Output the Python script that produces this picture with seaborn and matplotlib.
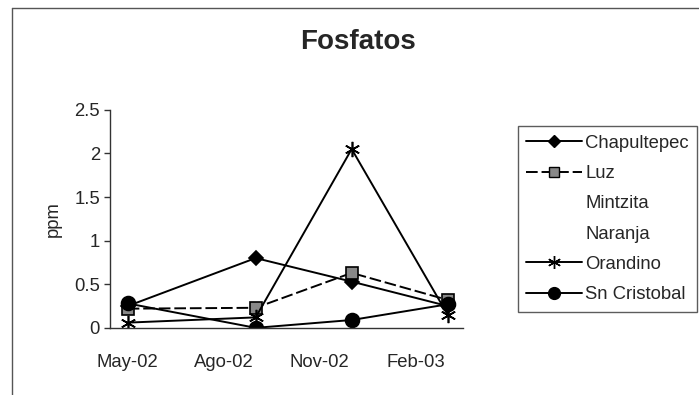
import numpy as np
import matplotlib
matplotlib.use("Agg")
import matplotlib.pyplot as plt
from matplotlib.lines import Line2D
import pandas as pd
import seaborn as sns

# sampling dates, months counted from May 2002
months = [0, 4, 7, 10]
tick_months = [0, 3, 6, 9]
tick_labels = ["May-02", "Ago-02", "Nov-02", "Feb-03"]

chapultepec = [0.25, 0.80, 0.53, 0.25]
luz = [0.22, 0.23, 0.63, 0.32]
mintzita = [np.nan, np.nan, np.nan, np.nan]
naranja = [np.nan, np.nan, np.nan, np.nan]
orandino = [0.06, 0.12, 2.05, 0.15]
sn_cristobal = [0.28, 0.00, 0.09, 0.27]

series = {
    "Chapultepec": chapultepec,
    "Luz": luz,
    "Mintzita": mintzita,
    "Naranja": naranja,
    "Orandino": orandino,
    "Sn Cristobal": sn_cristobal,
}

sns.set_theme(style="white")
plt.rcParams["font.family"] = ["Liberation Sans", "DejaVu Sans"]

styles = {
    "Chapultepec": dict(marker="D", markersize=7, markerfacecolor="black", dashes=""),
    "Luz": dict(marker="s", markersize=8, markerfacecolor="#888888", dashes=(6, 2)),
    "Mintzita": dict(marker="", markersize=0, markerfacecolor="none", dashes=""),
    "Naranja": dict(marker="", markersize=0, markerfacecolor="none", dashes=""),
    "Orandino": dict(marker=(6, 2, 0), markersize=11, markerfacecolor="black", dashes=""),
    "Sn Cristobal": dict(marker="o", markersize=10, markerfacecolor="black", dashes=""),
}

fig = plt.figure(figsize=(6.99, 3.95), dpi=100)
ax = fig.add_axes([0.157, 0.170, 0.505, 0.552])

handles = []
for name, vals in series.items():
    st = styles[name]
    df = pd.DataFrame({"month": months, "ppm": vals}).dropna()
    if len(df):
        sns.lineplot(data=df, x="month", y="ppm", ax=ax, color="black", linewidth=1.4,
                     marker=st["marker"], markersize=st["markersize"],
                     markerfacecolor=st["markerfacecolor"], markeredgecolor="black",
                     markeredgewidth=1.2, dashes=False)
        if st["dashes"]:
            ax.lines[-1].set_dashes(st["dashes"])
    h = Line2D([], [], color="black" if len(df) else "none", linewidth=1.4,
               marker=st["marker"] or None, markersize=st["markersize"] * 0.85,
               markerfacecolor=st["markerfacecolor"], markeredgecolor="black",
               markeredgewidth=1.0)
    if st["dashes"]:
        h.set_dashes(st["dashes"])
    handles.append(h)

fs = 13.3
ax.set_xlim(-0.56, 10.47)
ax.set_ylim(0, 2.5)
ax.set_yticks([0, 0.5, 1, 1.5, 2, 2.5])
ax.set_yticklabels(["0", "0.5", "1", "1.5", "2", "2.5"])
ax.set_xticks(tick_months)
ax.set_xticklabels(tick_labels)
ax.set_xticks([2.56, 5.5, 8.5], minor=True)
ax.tick_params(axis="x", which="major", length=0, pad=19, labelsize=fs)
ax.tick_params(axis="x", which="minor", length=4, width=1, color="#333333", direction="out")
ax.tick_params(axis="y", length=4, width=1, color="#333333", direction="out", left=True,
               labelsize=fs, pad=3)
ax.set_xlabel("")
ax.set_ylabel("ppm", fontsize=fs, labelpad=9)
for s in ["top", "right"]:
    ax.spines[s].set_visible(False)
for s in ["left", "bottom"]:
    ax.spines[s].set_color("#333333")
    ax.spines[s].set_linewidth(1)

fig.text(0.512, 1 - 42 / 395, "Fosfatos", ha="center", va="center",
         fontsize=20, fontweight="bold")

leg = fig.legend(handles, list(series.keys()), loc="center left",
                 bbox_to_anchor=(518 / 699, 1 - 219 / 395), fontsize=fs,
                 frameon=True, fancybox=False, edgecolor="#333333",
                 handlelength=3.0, handletextpad=0.2, labelspacing=0.72,
                 borderpad=0.45, borderaxespad=0)
leg.get_frame().set_linewidth(1)

# outer chart border (top and left visible)
fig.add_artist(Line2D([12 / 699, 1], [1 - 8 / 395, 1 - 8 / 395], color="#555555", linewidth=1))
fig.add_artist(Line2D([12 / 699, 12 / 699], [0, 1 - 8 / 395], color="#555555", linewidth=1))

fig.savefig("out.png", dpi=100)
